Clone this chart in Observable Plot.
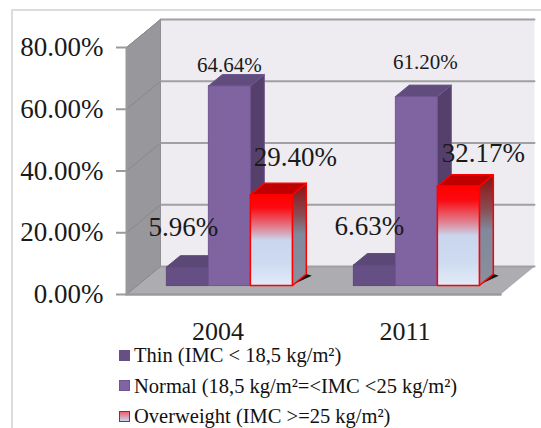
<!DOCTYPE html>
<html>
<head>
<meta charset="utf-8">
<script src="https://cdn.jsdelivr.net/npm/d3@7"></script>
<script src="https://cdn.jsdelivr.net/npm/@observablehq/plot@0.6"></script>
<style>
html,body{margin:0;padding:0;background:#fff;width:541px;height:428px;overflow:hidden;font-family:"Liberation Serif",serif;}
#frame{position:absolute;left:11px;top:9px;width:530px;height:419px;border-left:2px solid #dcdcdc;border-top:2px solid #dcdcdc;box-sizing:border-box;}
#chart{position:absolute;left:0;top:0;}
#legend{position:absolute;left:119px;top:340px;color:#111;}
.row{height:30.5px;display:flex;align-items:center;font-size:20.5px;line-height:22px;white-space:nowrap;}
.sw{width:11px;height:11px;margin-right:4px;box-sizing:border-box;flex:none;}
</style>
</head>
<body>
<div id="frame"></div>
<div id="chart"></div>
<div id="legend"></div>
<script>
const years = ["2004", "2011"];
const seriesNames = ["Thin (IMC < 18,5 kg/m²)", "Normal (18,5 kg/m²=<IMC <25 kg/m²)", "Overweight (IMC >=25 kg/m²)"];
const thin = [5.96, 6.63];
const normal = [64.64, 61.20];
const overweight = [29.40, 32.17];
const yTicks = [0, 20, 40, 60, 80];

// oblique projection: depth 1 = the back wall, expressed in data units
const DX = 34 / 187, DY = 28 / 3.0875;
const P = (x, v, d) => ({x: x + d * DX, y: v + d * DY});
const D0 = 0.32, D1 = 0.73, BAR = 42 / 187, START = 29 / 187;

const poly = (pts, fill, stroke, extra = {}) =>
  Plot.line([...pts, pts[0]], {x: "x", y: "y", fill, stroke: stroke || "none", strokeWidth: 1, ...extra});

const marks = [];
// gradients
marks.push(() => {
  const ns = "http://www.w3.org/2000/svg";
  const defs = document.createElementNS(ns, "defs");
  const grad = (id, stops) => {
    const g = document.createElementNS(ns, "linearGradient");
    g.setAttribute("id", id); g.setAttribute("x1", 0); g.setAttribute("x2", 0); g.setAttribute("y1", 0); g.setAttribute("y2", 1);
    stops.forEach(([o, c]) => { const s = document.createElementNS(ns, "stop"); s.setAttribute("offset", o); s.setAttribute("stop-color", c); g.appendChild(s); });
    defs.appendChild(g);
  };
  grad("redFront", [[0, "#ff0000"], [0.14, "#fb0a10"], [0.36, "#e08090"], [0.5, "#c9d6ee"], [0.75, "#cddaf0"], [1, "#e3ebf8"]]);
  grad("redSide", [[0, "#8a1010"], [0.3, "#8a4a50"], [0.5, "#7f8a9c"], [1, "#8a8f9c"]]);
  const g = document.createElementNS(ns, "g");
  g.appendChild(defs);
  return g;
});

// walls and floor
marks.push(poly([P(0, 0, 1), P(2, 0, 1), P(2, 80, 1), P(0, 80, 1)], "#eeecf1"));
marks.push(poly([P(0, 0, 0), P(0, 0, 1), P(0, 80, 1), P(0, 80, 0)], "#98979b", "#8f8f93"));
marks.push(poly([P(0, 0, 0), P(2, 0, 0), P(2, 0, 1), P(0, 0, 1)], "#adacb1"));
for (const t of yTicks) {
  marks.push(Plot.line([P(0, t, 1), P(2, t, 1)], {x: "x", y: "y", stroke: "#a0a0a2", strokeWidth: 2}));
  marks.push(Plot.line([P(0, t, 0), P(0, t, 1)], {x: "x", y: "y", stroke: "#88888c", strokeWidth: 1}));
}
marks.push(Plot.line([P(0, 0, 0), P(2, 0, 0)], {x: "x", y: "y", stroke: "#9a9a9c", strokeWidth: 2.5}));
marks.push(Plot.line([P(0, 0, 0), P(0, 80, 0)], {x: "x", y: "y", stroke: "#9a9a9c", strokeWidth: 2}));

function bar(x0, v, c) {
  const x1 = x0 + BAR;
  if (c.shadow) marks.push(poly([P(x1, 0, D0 + 0.06), P(x1, 0, D1), P(x1 + 0.04, 0, D1 - 0.06)], "#111"));
  marks.push(poly([P(x1, 0, D0), P(x1, 0, D1), P(x1, v, D1), P(x1, v, D0)], c.side, c.stroke, {strokeWidth: c.sw}));
  marks.push(poly([P(x0, v, D0), P(x1, v, D0), P(x1, v, D1), P(x0, v, D1)], c.top, c.stroke, {strokeWidth: c.sw}));
  marks.push(poly([P(x0, 0, D0), P(x1, 0, D0), P(x1, v, D0), P(x0, v, D0)], c.front, c.frontStroke || c.stroke, {strokeWidth: c.sw}));
}
const thinStyle = {front: "#664f84", side: "#54406a", top: "#5b4877", stroke: "#5f4a7c", sw: 1};
const normalStyle = {front: "#8064a2", side: "#54406a", top: "#614c7e", stroke: "#6f5690", sw: 1};
const overStyle = {front: "url(#redFront)", side: "url(#redSide)", top: "#c00000", stroke: "#ff0000", sw: 1.5, shadow: true};

years.forEach((_, g) => {
  const s = g + START;
  bar(s, thin[g], thinStyle);
  bar(s + BAR, normal[g], normalStyle);
  bar(s + 2 * BAR, overweight[g], overStyle);
});

// value labels, offset from each bar top
const labels = [
  {g: 0, k: 0, v: thin[0], dx: -4, dy: -40, size: 27},
  {g: 0, k: 1, v: normal[0], dx: 0, dy: -21, size: 21},
  {g: 0, k: 2, v: overweight[0], dx: 24, dy: -37, size: 27},
  {g: 1, k: 0, v: thin[1], dx: -5, dy: -39, size: 27},
  {g: 1, k: 1, v: normal[1], dx: 9, dy: -34, size: 21},
  {g: 1, k: 2, v: overweight[1], dx: 25, dy: -33, size: 27}
];
for (const d of labels) {
  const p = P(d.g + START + d.k * BAR + BAR / 2, d.v, D0);
  marks.push(Plot.text([d], {
    x: () => p.x, y: () => p.y, text: x => x.v.toFixed(2) + "%",
    dx: d.dx, dy: d.dy, fontSize: d.size, fontFamily: "Liberation Serif", fill: "#1a1a1a"
  }));
}

marks.push(Plot.axisY({ticks: yTicks, tickFormat: d => d.toFixed(2) + "%", tickSize: 10, tickPadding: 13, fontSize: 27, fontFamily: "Liberation Serif", stroke: "#9a9a9c", strokeWidth: 2, fill: "#1a1a1a", label: null}));
marks.push(Plot.axisX({ticks: [0.5, 1.5], tickFormat: i => years[Math.floor(i)], tickSize: 0, tickPadding: 27, fontSize: 26, fontFamily: "Liberation Serif", fill: "#1a1a1a", label: null, dx: -2}));

const chart = Plot.plot({
  width: 541, height: 345,
  marginLeft: 126, marginRight: 41, marginTop: 47, marginBottom: 51,
  style: {background: "transparent", overflow: "visible"},
  x: {type: "linear", domain: [0, 2]},
  y: {type: "linear", domain: [0, 80]},
  marks
});
document.getElementById("chart").appendChild(chart);

const swatches = [
  "background:#664f84;",
  "background:#8064a2;border:1px solid #6f5690;",
  "background:linear-gradient(#f06070,#c9d6ee);border:1.5px solid #ff0000;"
];
document.getElementById("legend").innerHTML = seriesNames.map((n, i) => {
  const e = document.createElement("span"); e.textContent = n;
  return `<div class="row"><span class="sw" style="${swatches[i]}"></span>${e.innerHTML}</div>`;
}).join("");
</script>
</body>
</html>
